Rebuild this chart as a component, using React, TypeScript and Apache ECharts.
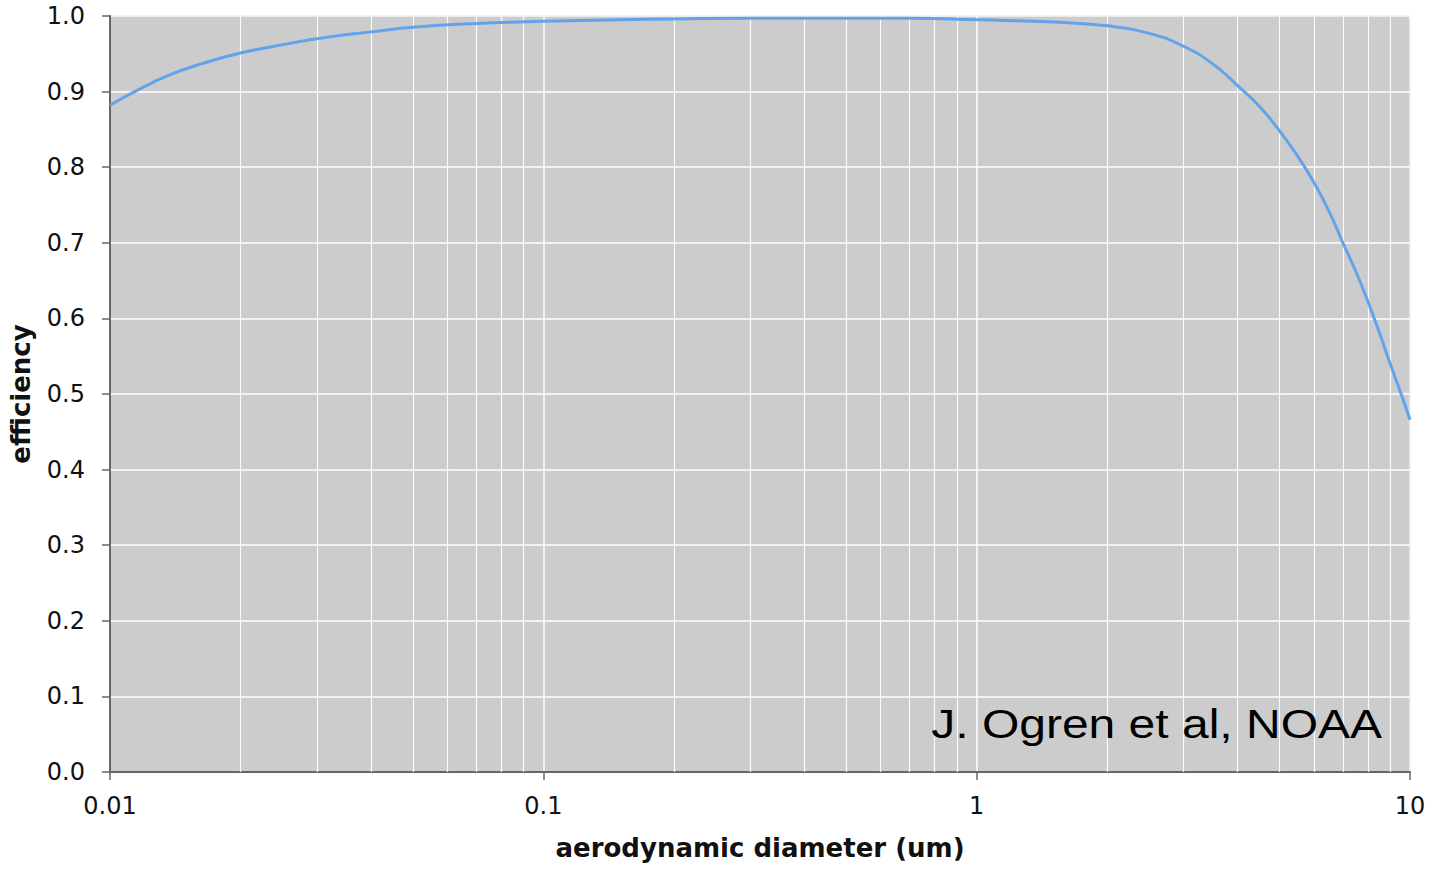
import React, { useEffect, useRef } from "react";
import * as echarts from "echarts";

// Aerodynamic diameter (um) and sampling efficiency
const diameters = [
  0.01, 0.0114, 0.0136, 0.0163, 0.02, 0.025, 0.03, 0.04, 0.05, 0.07, 0.1, 0.15, 0.2, 0.3, 0.5, 0.7,
  1, 1.5, 2, 2.5, 3, 3.5, 4, 4.5, 5, 5.5, 6, 6.5, 7, 7.5, 8, 8.5, 9, 9.5, 10,
];
const efficiency = [
  0.882, 0.9, 0.921, 0.937, 0.951, 0.962, 0.97, 0.979, 0.985, 0.99, 0.993, 0.995, 0.996, 0.997,
  0.997, 0.997, 0.995, 0.992, 0.987, 0.977, 0.96, 0.937, 0.908, 0.88, 0.848, 0.815, 0.78, 0.742,
  0.7, 0.662, 0.622, 0.581, 0.54, 0.503, 0.466,
];
const xTickLabels = ["0.01", "0.1", "1", "10"];
const minorGrid = [
  0.02, 0.03, 0.04, 0.05, 0.06, 0.07, 0.08, 0.09,
  0.2, 0.3, 0.4, 0.5, 0.6, 0.7, 0.8, 0.9,
  2, 3, 4, 5, 6, 7, 8, 9,
];
const creditText = "J. Ogren et al, NOAA";

export default function App() {
  const ref = useRef<HTMLDivElement>(null);

  useEffect(() => {
    if (!ref.current) return;
    const chart = echarts.init(ref.current, null, { renderer: "svg" });
    const font = "'DejaVu Sans', Verdana, sans-serif";
    chart.setOption({
      animation: false,
      grid: {
        left: 108,
        right: 21,
        top: 16,
        bottom: 99,
        show: true,
        backgroundColor: "#cccccc",
        borderColor: "#9a9a9a",
        borderWidth: 1,
      },
      xAxis: {
        type: "log",
        logBase: 10,
        min: 0.01,
        max: 10,
        name: "aerodynamic diameter (um)",
        nameLocation: "middle",
        nameGap: 63,
        nameTextStyle: { fontFamily: font, fontWeight: "bold", fontSize: 26, color: "#111" },
        axisLine: { onZero: false, lineStyle: { color: "#666", width: 2 } },
        axisTick: { show: true, length: 8, lineStyle: { color: "#666", width: 1.5 } },
        axisLabel: {
          fontFamily: font,
          fontSize: 24,
          color: "#111",
          margin: 22,
          formatter: (v: number) => {
            const i = Math.round(Math.log10(v)) + 2;
            return xTickLabels[i] ?? String(v);
          },
        },
        splitLine: { show: true, lineStyle: { color: "#ffffff", width: 1.5 } },
      },
      yAxis: {
        type: "value",
        min: 0,
        max: 1,
        interval: 0.1,
        name: "efficiency",
        nameLocation: "middle",
        nameGap: 76,
        nameTextStyle: { fontFamily: font, fontWeight: "bold", fontSize: 26, color: "#111" },
        axisLine: { show: true, lineStyle: { color: "#666", width: 2 } },
        axisTick: { show: true, length: 8, lineStyle: { color: "#666", width: 1.5 } },
        axisLabel: {
          fontFamily: font,
          fontSize: 24,
          color: "#111",
          margin: 25,
          formatter: (v: number) => v.toFixed(1),
        },
        splitLine: { show: true, lineStyle: { color: "#ffffff", width: 1.5 } },
      },
      series: [
        {
          type: "line",
          data: diameters.map((d, i) => [d, efficiency[i]]),
          smooth: 0.5,
          showSymbol: false,
          lineStyle: { color: "#62a3ec", width: 3 },
          z: 3,
          markLine: {
            silent: true,
            symbol: "none",
            label: { show: false },
            lineStyle: { color: "#ffffff", width: 1.2, type: "solid", opacity: 0.9 },
            data: minorGrid.map((v) => ({ xAxis: v })),
            z: 1,
          },
        },
      ],
      graphic: [
        {
          type: "text",
          x: 1382,
          y: 744,
          scaleX: 1.2,
          style: {
            text: creditText,
            fontFamily: "'Liberation Sans', Arial, sans-serif",
            fontSize: 40,
            fill: "#000",
            textAlign: "right",
            textVerticalAlign: "bottom",
          },
          z: 10,
        },
      ],
    });
    return () => chart.dispose();
  }, []);

  return <div ref={ref} style={{ width: 1431, height: 871, position: "absolute", left: 0, top: 0 }} />;
}
